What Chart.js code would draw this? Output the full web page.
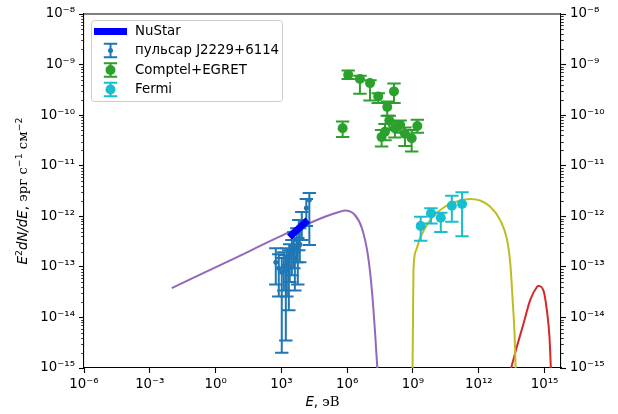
<!DOCTYPE html>
<html>
<head>
<meta charset="utf-8">
<script src="https://cdn.jsdelivr.net/npm/chart.js@4.4.0/dist/chart.umd.min.js"></script>
<style>
html, body { margin: 0; padding: 0; background: #fff; }
#wrap { width: 618px; height: 414px; }
</style>
</head>
<body>
<div id="wrap"><canvas id="sed" width="618" height="414"></canvas></div>
<script>
// ---- data (E in eV, E^2 dN/dE in erg s^-1 cm^-2) ----
var nustarE = [2.3e3, 1.6e4];
var nustarF = [3.9e-13, 8.4e-13];

var pulsarE  = [1.88e4, 1.37e4, 8.5e3, 6.2e3, 5.0e3, 3.7e3, 3.0e3, 5.6e3, 2.4e3, 4.1e3, 1.77e3, 1.29e3, 760, 1.04e3, 1.59e3, 555, 2.18e3, 6.9e3];
var pulsarF  = [2.1e-12, 1.46e-12, 7.7e-13, 4.9e-13, 3.4e-13, 2.45e-13, 1.95e-13, 2.04e-13, 1.49e-13, 1.49e-13, 1.24e-13, 1.03e-13, 9.4e-14, 7.8e-14, 8.6e-14, 1.24e-13, 1.03e-13, 2.8e-13];
var pulsarHi = [2.9e-12, 2.2e-12, 1.21e-12, 8.4e-13, 5.8e-13, 4.9e-13, 3.4e-13, 3.7e-13, 2.8e-13, 2.56e-13, 2.34e-13, 1.95e-13, 1.78e-13, 1.49e-13, 1.7e-13, 2.34e-13, 2.14e-13, 5.8e-13];
var pulsarLo = [2.7e-13, 6.4e-13, 3.4e-13, 2.14e-13, 1.24e-13, 9.4e-14, 6.8e-14, 4.5e-14, 5.0e-14, 3.4e-14, 2.6e-14, 3.4e-14, 2.6e-14, 2.0e-15, 3.5e-15, 4.5e-14, 1.38e-14, 1.24e-13];

var compE  = [1.11e6, 3.8e6, 1.1e7, 2.6e7, 1.36e8, 6.7e7, 8.3e7, 6.2e5, 2.6e8, 1.5e8, 5.3e7, 3.7e7, 4.3e8, 8.7e8, 1.58e9];
var compF  = [6.3e-10, 5.2e-10, 4.3e-10, 2.35e-10, 2.95e-10, 1.45e-10, 7.8e-11, 5.5e-11, 6.4e-11, 5.5e-11, 4.7e-11, 3.7e-11, 4.3e-11, 3.5e-11, 6.1e-11];
var compHi = [7.6e-10, 6.0e-10, 4.9e-10, 2.7e-10, 4.2e-10, 1.87e-10, 9.7e-11, 7.5e-11, 7.8e-11, 7.4e-11, 6.7e-11, 5.1e-11, 5.7e-11, 5.1e-11, 8.1e-11];
var compLo = [5.2e-10, 2.65e-10, 1.95e-10, 1.73e-10, 1.73e-10, 9.7e-11, 5.1e-11, 3.7e-11, 4.5e-11, 3.6e-11, 3.2e-11, 2.4e-11, 2.45e-11, 1.9e-11, 4.5e-11];

var fermiE  = [2.24e9, 6.6e9, 1.85e10, 5.9e10, 1.73e11];
var fermiF  = [6.4e-13, 1.14e-12, 9.35e-13, 1.62e-12, 1.75e-12];
var fermiHi = [9.8e-13, 1.44e-12, 1.18e-12, 2.55e-12, 2.98e-12];
var fermiLo = [3.3e-13, 7.2e-13, 4.9e-13, 7.8e-13, 4.05e-13];

// model curves
var synE = [1e-2, 4.4, 2.42e3, 9.6e4, 4.6e5, 7.8e5, 2.25e6, 4.7e6, 8.8e6, 1.34e7, 1.84e7, 2.4e7];
var synF = [3.8e-14, 1.33e-13, 4.9e-13, 9.8e-13, 1.23e-12, 1.30e-12, 1.06e-12, 5.8e-13, 1.7e-13, 3.4e-14, 5.5e-15, 9e-16];

var icE = [9.5e8, 1.0e9, 1.05e9, 1.37e9, 2.09e9, 5.97e9, 2.34e10, 1.39e11, 3.96e11, 1.14e12, 3.28e12, 9.4e12, 1.96e13, 2.7e13, 3.5e13, 4.3e13, 4.8e13];
var icF = [9e-16, 8.7e-15, 8.5e-14, 2.1e-13, 3.7e-13, 8.4e-13, 1.46e-12, 2.05e-12, 2.2e-12, 2.05e-12, 1.56e-12, 8.4e-13, 3.4e-13, 1.24e-13, 2.2e-14, 4.4e-15, 9e-16];

var hiE = [2.8e13, 5.4e13, 1.09e14, 2.2e14, 4.45e14, 5.2e14, 8.9e14, 1.27e15, 1.67e15, 1.95e15];
var hiF = [9e-16, 2.6e-15, 7.5e-15, 2.2e-14, 4.0e-14, 4.2e-14, 3.4e-14, 1.38e-14, 4.1e-15, 9e-16];

var xTickExp = [-6, -3, 0, 3, 6, 9, 12, 15];
var yTickExp = [-15, -14, -13, -12, -11, -10, -9, -8];
var xMin = 1e-6, xMax = 5.6e15;
var yMin = 1e-15, yMax = 1e-8;

var legendNames = ['NuStar', 'пульсар J2229+6114', 'Comptel+EGRET', 'Fermi'];

// ---- helpers ----
var FONT = 'DejaVu Sans';
var FS = 13.33;
var SUP = {'0':'⁰','1':'¹','2':'²','3':'³','4':'⁴','5':'⁵','6':'⁶','7':'⁷','8':'⁸','9':'⁹','-':'⁻'};

function powLabel(v) {
  var e = Math.round(Math.log10(v));
  return '10' + String(e).split('').map(function (c) { return SUP[c]; }).join('');
}

function pts(xs, ys) {
  return xs.map(function (x, i) { return {x: x, y: ys[i]}; });
}

function runFont(r, size) {
  var s = r.sup ? size * 0.7 : size;
  return (r.it ? 'italic ' : '') + s + 'px "' + (r.serif ? 'DejaVu Serif' : FONT) + '"';
}

function drawRuns(ctx, runs, size) {
  var total = 0;
  runs.forEach(function (r) { ctx.font = runFont(r, size); r.w = ctx.measureText(r.t).width; total += r.w; });
  var x = -total / 2;
  runs.forEach(function (r) {
    ctx.font = runFont(r, size);
    ctx.fillText(r.t, x, r.sup ? -size * 0.4 : 0);
    x += r.w;
  });
}

function drawErr(ctx, x, y1, y2, color, cap) {
  ctx.strokeStyle = color;
  ctx.lineWidth = 2;
  ctx.beginPath();
  ctx.moveTo(x, y1); ctx.lineTo(x, y2);
  ctx.moveTo(x - cap, y1); ctx.lineTo(x + cap, y1);
  ctx.moveTo(x - cap, y2); ctx.lineTo(x + cap, y2);
  ctx.stroke();
}

function logTicks(exps) {
  return function (scale) {
    scale.ticks = exps.map(function (e) { return {value: Math.pow(10, e)}; });
  };
}

var tickFont = {family: FONT, size: FS};
var gridOpts = {display: true, drawOnChartArea: false, drawTicks: true, tickLength: 5, tickColor: '#000', tickWidth: 1.1};
var borderOpts = {display: true, color: '#000', width: 1.1};

// error bars, minor ticks, top spine, legend, axis titles
var extras = {
  id: 'extras',
  beforeDatasetDraw: function (chart, args) {
    var ds = chart.data.datasets[args.index];
    if (!ds.errLo) return;
    var meta = chart.getDatasetMeta(args.index);
    var ys = chart.scales.y;
    var ctx = chart.ctx, a = chart.chartArea;
    ctx.save();
    ctx.beginPath();
    ctx.rect(a.left, a.top, a.right - a.left, a.bottom - a.top);
    ctx.clip();
    meta.data.forEach(function (p, i) {
      drawErr(ctx, p.x, ys.getPixelForValue(ds.errHi[i]), ys.getPixelForValue(ds.errLo[i]), ds.backgroundColor, 6.7);
    });
    ctx.restore();
  },
  afterDraw: function (chart) {
    var ctx = chart.ctx, a = chart.chartArea;
    ctx.save();
    // top spine
    ctx.strokeStyle = '#000';
    ctx.lineWidth = 1.1;
    ctx.beginPath();
    ctx.moveTo(a.left, a.top); ctx.lineTo(a.right, a.top);
    ctx.stroke();
    // minor ticks on both y axes
    ctx.lineWidth = 0.8;
    ctx.beginPath();
    ['y', 'y2'].forEach(function (id) {
      var s = chart.scales[id];
      var x0 = id === 'y' ? a.left : a.right;
      var dir = id === 'y' ? -1 : 1;
      for (var e = yTickExp[0]; e < yTickExp[yTickExp.length - 1]; e++) {
        for (var k = 2; k <= 9; k++) {
          var py = Math.round(s.getPixelForValue(k * Math.pow(10, e))) + 0.5;
          ctx.moveTo(x0, py); ctx.lineTo(x0 + dir * 2.8, py);
        }
      }
    });
    ctx.stroke();

    // legend
    var lx = 91.5, ly = 20.5, lw = 191, lh = 81, rr = 3;
    ctx.fillStyle = 'rgba(255,255,255,0.8)';
    ctx.strokeStyle = '#cccccc';
    ctx.lineWidth = 1;
    ctx.beginPath();
    ctx.roundRect(lx, ly, lw, lh, rr);
    ctx.fill();
    ctx.stroke();
    var rowY = [31.5, 50.5, 70, 89.5];
    var hx = 110.5;
    ctx.strokeStyle = 'blue';
    ctx.lineWidth = 7;
    ctx.beginPath();
    ctx.moveTo(94, rowY[0]); ctx.lineTo(127, rowY[0]);
    ctx.stroke();
    var hc = [['#1f77b4', 2.5], ['#2ca02c', 5], ['#17becf', 5]];
    for (var i = 0; i < 3; i++) {
      var cy = rowY[i + 1];
      drawErr(ctx, hx, cy - 6.7, cy + 6.7, hc[i][0], 6.7);
      ctx.fillStyle = hc[i][0];
      ctx.beginPath();
      ctx.arc(hx, cy, hc[i][1], 0, Math.PI * 2);
      ctx.fill();
    }
    ctx.fillStyle = '#000';
    ctx.font = FS + 'px "' + FONT + '"';
    ctx.textBaseline = 'middle';
    ctx.textAlign = 'left';
    legendNames.forEach(function (t, j) { ctx.fillText(t, 135, rowY[j] + 0.5); });

    // axis titles
    ctx.textBaseline = 'alphabetic';
    ctx.fillStyle = '#000';
    ctx.save();
    ctx.translate((a.left + a.right) / 2, 406);
    drawRuns(ctx, [{t: 'E', it: 1}, {t: ', '}, {t: 'эВ', serif: 1}], FS);
    ctx.restore();
    ctx.save();
    ctx.translate(27, (a.top + a.bottom) / 2);
    ctx.rotate(-Math.PI / 2);
    drawRuns(ctx, [
      {t: 'E', it: 1}, {t: '2', sup: 1}, {t: 'dN/dE', it: 1}, {t: ', '},
      {t: 'эрг с', serif: 1}, {t: '−1', sup: 1}, {t: ' см', serif: 1}, {t: '−2', sup: 1}
    ], FS);
    ctx.restore();
    ctx.restore();
  }
};

var config = {
  type: 'scatter',
  data: {
    datasets: [{
      label: legendNames[0],
      data: pts(nustarE, nustarF),
      showLine: true,
      borderColor: 'blue',
      borderWidth: 7,
      borderCapStyle: 'butt',
      pointRadius: 0
    }, {
      label: legendNames[1],
      data: pts(pulsarE, pulsarF),
      errHi: pulsarHi, errLo: pulsarLo,
      backgroundColor: '#1f77b4',
      borderWidth: 0,
      pointRadius: 2.5
    }, {
      label: legendNames[2],
      data: pts(compE, compF),
      errHi: compHi, errLo: compLo,
      backgroundColor: '#2ca02c',
      borderWidth: 0,
      pointRadius: 5
    }, {
      label: legendNames[3],
      data: pts(fermiE, fermiF),
      errHi: fermiHi, errLo: fermiLo,
      backgroundColor: '#17becf',
      borderWidth: 0,
      pointRadius: 5
    }, {
      label: 'synchrotron',
      data: pts(synE, synF),
      showLine: true,
      borderColor: '#9467bd',
      borderWidth: 2,
      pointRadius: 0,
      cubicInterpolationMode: 'monotone'
    }, {
      label: 'IC',
      data: pts(icE, icF),
      showLine: true,
      borderColor: '#bcbd22',
      borderWidth: 2,
      pointRadius: 0,
      cubicInterpolationMode: 'monotone'
    }, {
      label: 'high',
      data: pts(hiE, hiF),
      showLine: true,
      borderColor: '#d62728',
      borderWidth: 2,
      pointRadius: 0,
      cubicInterpolationMode: 'monotone'
    }]
  },
  options: {
    responsive: false,
    devicePixelRatio: 1,
    animation: false,
    events: [],
    layout: {padding: {top: 14, left: 0, right: 0, bottom: 0}},
    plugins: {legend: {display: false}, tooltip: {enabled: false}},
    scales: {
      x: {
        type: 'logarithmic', position: 'bottom', min: xMin, max: xMax,
        afterBuildTicks: logTicks(xTickExp),
        afterFit: function (s) { s.height = 46; },
        ticks: {callback: powLabel, autoSkip: false, maxRotation: 0, padding: 4, color: '#000', font: tickFont},
        grid: gridOpts, border: borderOpts
      },
      y: {
        type: 'logarithmic', position: 'left', min: yMin, max: yMax,
        afterBuildTicks: logTicks(yTickExp),
        afterFit: function (s) { s.width = 84; },
        ticks: {callback: powLabel, autoSkip: false, padding: 4, color: '#000', font: tickFont},
        grid: gridOpts, border: borderOpts
      },
      y2: {
        type: 'logarithmic', position: 'right', min: yMin, max: yMax,
        afterBuildTicks: logTicks(yTickExp),
        afterFit: function (s) { s.width = 57; },
        ticks: {callback: powLabel, autoSkip: false, padding: 4, color: '#000', font: tickFont},
        grid: gridOpts, border: borderOpts
      }
    }
  },
  plugins: [extras]
};

window.onload = function () {
  var ctx = document.getElementById('sed').getContext('2d');
  window.sedChart = new Chart(ctx, config);
};
</script>
</body>
</html>
